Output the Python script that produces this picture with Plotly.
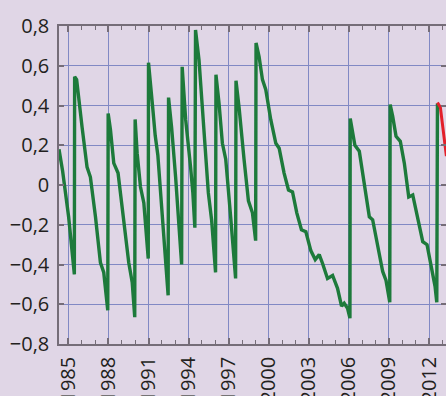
import plotly.graph_objects as go

# Green series (decimal years, values)
green_t = [1984.3, 1984.57, 1985.02, 1985.45, 1985.47, 1985.62, 1986.03, 1986.4, 1986.65, 1987.03,
           1987.4, 1987.65, 1987.95, 1987.98, 1988.15, 1988.4, 1988.72, 1989.15, 1989.52, 1989.78,
           1989.97, 1990.0, 1990.15, 1990.4, 1990.65, 1990.98, 1991.0, 1991.3, 1991.5, 1991.7,
           1991.9, 1992.2, 1992.47, 1992.5, 1992.73, 1993.03, 1993.28, 1993.48, 1993.52, 1993.78,
           1994.15, 1994.32, 1994.47, 1994.52, 1994.78, 1995.15, 1995.48, 1995.73, 1996.02, 1996.05,
           1996.28, 1996.53, 1996.78, 1997.15, 1997.52, 1997.55, 1997.78, 1998.15, 1998.48, 1998.78,
           1999.02, 1999.05, 1999.28, 1999.53, 1999.78, 2000.15, 2000.53, 2000.78, 2001.15, 2001.48,
           2001.78, 2002.1, 2002.45, 2002.78, 2003.15, 2003.48, 2003.78, 2004.03, 2004.4, 2004.78,
           2005.15, 2005.45, 2005.65, 2005.9, 2006.08, 2006.1, 2006.45, 2006.78, 2007.15, 2007.53,
           2007.78, 2008.15, 2008.53, 2008.78, 2009.06, 2009.09, 2009.28, 2009.53, 2009.85, 2010.15,
           2010.48, 2010.78, 2011.15, 2011.53, 2011.85, 2012.2, 2012.45, 2012.58, 2012.63]
green_v = [0.18, 0.07, -0.16, -0.45, 0.545, 0.53, 0.29, 0.09, 0.04, -0.16,
           -0.39, -0.44, -0.63, 0.36, 0.28, 0.11, 0.06, -0.18, -0.39, -0.49,
           -0.665, 0.33, 0.16, -0.01, -0.09, -0.37, 0.615, 0.4, 0.25, 0.15,
           -0.03, -0.3, -0.555, 0.44, 0.29, 0.04, -0.18, -0.4, 0.595, 0.33,
           0.09, -0.04, -0.215, 0.78, 0.63, 0.28, -0.04, -0.18, -0.44, 0.555,
           0.41, 0.21, 0.13, -0.16, -0.47, 0.525, 0.39, 0.13, -0.08, -0.14,
           -0.28, 0.715, 0.645, 0.53, 0.48, 0.33, 0.21, 0.185, 0.06, -0.025,
           -0.035, -0.14, -0.225, -0.235, -0.33, -0.375, -0.35, -0.395, -0.47, -0.455,
           -0.52, -0.61, -0.595, -0.62, -0.67, 0.335, 0.2, 0.17, 0.01, -0.16,
           -0.175, -0.31, -0.435, -0.48, -0.59, 0.405, 0.345, 0.245, 0.22, 0.11,
           -0.06, -0.05, -0.16, -0.285, -0.3, -0.42, -0.51, -0.59, 0.41]

# Red series (forecast)
red_t = [2012.63, 2012.85, 2013.3]
red_v = [0.415, 0.39, 0.145]

x_tickvals = [1985, 1988, 1991, 1994, 1997, 2000, 2003, 2006, 2009, 2012]
x_ticktext = [str(v) for v in x_tickvals]
y_tickvals = [0.8, 0.6, 0.4, 0.2, 0, -0.2, -0.4, -0.6, -0.8]
y_ticktext = ["0,8", "0,6", "0,4", "0,2", "0", "−0,2", "−0,4", "−0,6", "−0,8"]

BG = "#e0d6e6"
GRID = "#8189c4"
AXIS = "#756d78"
FONT = dict(family="Open Sans", size=20, color="#231f20")

fig = go.Figure()
fig.add_trace(go.Scatter(x=green_t, y=green_v, mode="lines",
                         line=dict(color="#1d7a3b", width=3.4), showlegend=False))
fig.add_trace(go.Scatter(x=red_t, y=red_v, mode="lines",
                         line=dict(color="#e3202a", width=3), showlegend=False))

fig.update_layout(
    width=446, height=396,
    margin=dict(l=59, r=0, t=26, b=52, autoexpand=False),
    paper_bgcolor=BG, plot_bgcolor=BG,
    font=FONT,
    xaxis=dict(range=[1984.3, 2013.27], tickvals=x_tickvals, ticktext=x_ticktext,
               tickangle=-90, showgrid=True, gridcolor=GRID, gridwidth=1,
               showline=True, linecolor=AXIS, linewidth=1.5, mirror="ticks",
               ticks="inside", ticklen=6, tickcolor=AXIS, tickwidth=1.5,
               minor=dict(dtick=1, tick0=1985, ticks="inside", ticklen=4,
                          tickcolor=AXIS, tickwidth=1, showgrid=False),
               zeroline=False, tickfont=FONT, ticklabelstandoff=3, automargin=False),
    yaxis=dict(range=[-0.8, 0.8], tickvals=y_tickvals, ticktext=y_ticktext,
               showgrid=True, gridcolor=GRID, gridwidth=1,
               showline=True, linecolor=AXIS, linewidth=1.5, mirror="ticks",
               ticks="inside", ticklen=5, tickcolor=AXIS, tickwidth=1.5,
               zeroline=False, tickfont=FONT, ticklabelstandoff=4, automargin=False),
)

fig.write_html(
    "out.html",
    config={"displayModeBar": False},
    post_script="document.body.style.margin='0';document.body.style.background='%s';" % BG,
)
